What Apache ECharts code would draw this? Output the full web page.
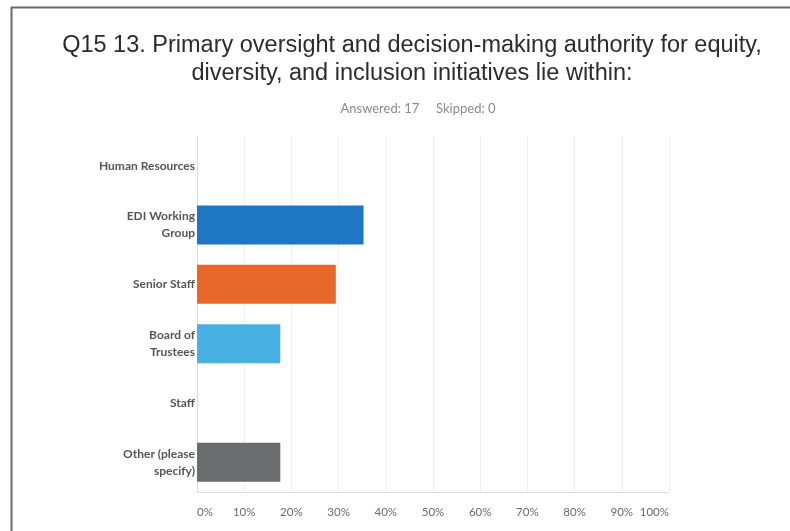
<!DOCTYPE html>
<html>
<head>
<meta charset="utf-8">
<script src="https://cdn.jsdelivr.net/npm/echarts@6/dist/echarts.min.js"></script>
<style>
  html, body { margin: 0; padding: 0; background: #fff; }
  #chart { width: 790px; height: 531px; }
</style>
</head>
<body>
<div id="chart"></div>
<script>
// Survey question and answer choices
const titleLines = [
  'Q15 13. Primary oversight and decision-making authority for equity,',
  'diversity, and inclusion initiatives lie within:'
];
const subtitleText = 'Answered: 17     Skipped: 0';

const categories = [
  'Human Resources',
  'EDI Working\nGroup',
  'Senior Staff',
  'Board of\nTrustees',
  'Staff',
  'Other (please\nspecify)'
];
// Share of respondents (%)
const percentages = [0, 35.29, 29.41, 17.65, 0, 17.65];
const barColors = ['#1f77c4', '#1f77c4', '#e8672a', '#49b0e4', '#6b6c6e', '#6b6c6e'];
const tickValues = [0, 10, 20, 30, 40, 50, 60, 70, 80, 90, 100];

const chart = echarts.init(document.getElementById('chart'), null, { renderer: 'canvas' });

chart.setOption({
  animation: false,
  backgroundColor: '#ffffff',
  title: [
    {
      text: titleLines.join('\n'),
      left: 407,
      top: 27,
      textAlign: 'center',
      textStyle: {
        fontFamily: 'Liberation Sans, Arial, sans-serif',
        fontSize: 23.5,
        fontWeight: 'normal',
        color: '#2b2b2b',
        lineHeight: 28
      }
    },
    {
      text: subtitleText,
      left: 413,
      top: 97,
      textAlign: 'center',
      textStyle: {
        fontFamily: 'Lato, sans-serif',
        fontSize: 13,
        fontWeight: 'normal',
        color: '#8a8a8a'
      }
    }
  ],
  graphic: [
    {
      type: 'polyline',
      shape: { points: [[11.5, 531], [11.5, 7.5], [790, 7.5]] },
      style: { stroke: '#6a6a6a', lineWidth: 2, fill: null }
    }
  ],
  grid: { left: 197, right: 121, top: 136, bottom: 39, containLabel: false },
  xAxis: {
    type: 'value',
    min: 0,
    max: 100,
    interval: 10,
    axisLine: { show: true, lineStyle: { color: '#e2dcdc', width: 1 } },
    axisTick: { show: false },
    splitLine: { show: true, lineStyle: { color: '#eeeeee', width: 1 } },
    axisLabel: {
      margin: 14,
      fontFamily: 'Lato, sans-serif',
      fontSize: 11.5,
      color: '#6a6a6a',
      alignMinLabel: 'left',
      alignMaxLabel: 'right',
      customValues: tickValues,
      formatter: v => v + '%'
    }
  },
  yAxis: {
    type: 'category',
    inverse: true,
    data: categories,
    axisLine: { show: true, lineStyle: { color: '#e2dcdc', width: 1 } },
    axisTick: { show: false },
    axisLabel: {
      margin: 2,
      fontFamily: 'Lato, sans-serif',
      fontSize: 12,
      fontWeight: 'bold',
      color: '#555555',
      lineHeight: 17,
      align: 'right'
    }
  },
  series: [
    {
      type: 'bar',
      data: percentages.map((v, i) => ({ value: v, itemStyle: { color: barColors[i] } })),
      barWidth: 39,
      silent: true,
      z: 3
    }
  ]
});
</script>
</body>
</html>
